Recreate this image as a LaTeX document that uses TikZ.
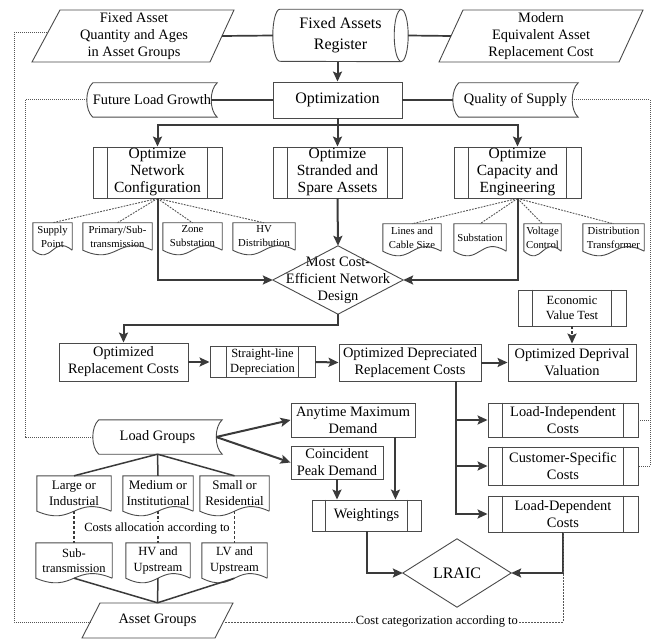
\documentclass[tikz,border=0pt]{standalone}
\usepackage{fontspec}
\setmainfont{Liberation Serif}
\usetikzlibrary{calc,arrows.meta}
\definecolor{lc}{HTML}{3A3A3A}
\definecolor{bc}{HTML}{4A4A4A}
\definecolor{dc}{HTML}{555555}
\newcommand\fsA{\fontsize{14.4pt}{17pt}\selectfont}
\newcommand\fsB{\fontsize{16pt}{21pt}\selectfont}
\newcommand\fsO{\fontsize{15.5pt}{17pt}\selectfont}
\newcommand\fsC{\fontsize{10.7pt}{14pt}\selectfont}
\newcommand\fsD{\fontsize{12.5pt}{15.5pt}\selectfont}
\newcommand\fsE{\fontsize{13pt}{16pt}\selectfont}
\newcommand\fsL{\fontsize{16pt}{19pt}\selectfont}
\tikzset{
 bline/.style={draw=bc,line width=0.9pt},
 bx/.style={rectangle,draw=bc,line width=0.9pt,inner sep=0pt,align=center},
 nb/.style={rectangle,inner sep=0pt,align=center},
 ln/.style={draw=lc,line width=2pt},
 arr/.style={draw=lc,line width=2pt,-{Stealth[length=10pt,width=9pt,inset=2pt]}},
 side/.style={draw=lc,line width=1.1pt},
 bside/.style={draw=lc,line width=1.7pt},
 lgl/.style={draw=lc,line width=1.5pt},
 dotl/.style={draw=dc,line width=1pt,dash pattern=on 0.9pt off 1.1pt},
 fdsh/.style={draw=dc,line width=0.9pt,dash pattern=on 1.8pt off 1.2pt},
 dsh/.style={draw=lc,line width=1.3pt,dash pattern=on 3pt off 2pt},
}
\newcommand\pplines[2]{\draw[bline] ([xshift=#2]#1.north west) -- ([xshift=#2]#1.south west) ([xshift=-#2]#1.north east) -- ([xshift=-#2]#1.south east);}
\newcommand\mydoc[1]{\draw[bline] (#1.south east) -- (#1.north east) -- (#1.north west) -- (#1.south west) .. controls ($(#1.south)+(0,16)$) and ($(#1.south)+(0,-16)$) .. (#1.south east);}
\newcommand\mystd[1]{\draw[bline] ($(#1.north west)+(6,0)$) .. controls ($(#1.north west)+(-2,7)$) and ($(#1.south west)+(-2,-7)$) .. ($(#1.south west)+(6,0)$) -- (#1.south east) .. controls ($(#1.south east)+(-8,-7)$) and ($(#1.north east)+(-8,7)$) .. (#1.north east) -- cycle;}
\newcommand\mydia[1]{\draw[bline] (#1.north) -- (#1.east) -- (#1.south) -- (#1.west) -- cycle;}
\begin{document}
\begin{tikzpicture}[x=1pt,y=-1pt]
\useasboundingbox (0,0) rectangle (656,639);
% ---------- top row
\node[nb,font=\fsA] (fa) at (134,36) {Fixed Asset\\Quantity and Ages\\in Asset Groups};
\draw[bline] (60,10) -- (234,10) -- (210,62) -- (32,62) -- cycle;
\coordinate (faR) at (222,36);
\coordinate (faL) at (47,33);
\node[nb,font=\fsB,minimum width=135pt,minimum height=52pt] (reg) at (340.5,35.5) {Fixed Assets\\Register};
\draw[bline] ($(reg.north east)+(-7,0)$) -- ($(reg.north west)+(7,0)$) arc[start angle=90,end angle=270,x radius=7pt,y radius=26pt] -- ($(reg.south east)+(-7,0)$);
\draw[bline] ($(reg.east)+(-7,0)$) ellipse [x radius=7pt,y radius=26pt];
\node[nb,font=\fsA] (mod) at (541,36) {Modern\\Equivalent Asset\\Replacement Cost};
\draw[bline] (463,10) -- (643,10) -- (619,62) -- (439,62) -- cycle;
\coordinate (modL) at (451,36);
\draw[bside] (faR) -- (reg.west);
\draw[bside] (reg.east) -- (modL);
% ---------- optimization
\node[bx,font=\fsB,minimum width=129pt,minimum height=36pt] (opt) at (337.5,100) {Optimization};
\draw[arr] (opt.north |- reg.south) -- (opt.north);
\node[nb,font=\fsA,minimum width=130pt,minimum height=34pt] (flg) at (152,100) {Future Load Growth};
\mystd{flg}
\node[nb,font=\fsA,minimum width=125pt,minimum height=34pt] (qos) at (515.5,100) {Quality of Supply};
\mystd{qos}
\draw[side] ($(flg.east)+(-6,0)$) -- (opt.west);
\draw[side] (opt.east) -- (qos.west);
% ---------- optimize boxes
\node[bx,font=\fsO,minimum width=129pt,minimum height=51pt] (nc) at (157.5,172.5) {Optimize\\Network\\Configuration};
\pplines{nc}{15pt}
\node[bx,font=\fsO,minimum width=129pt,minimum height=51pt] (ss) at (337.5,172.5) {Optimize\\Stranded and\\Spare Assets};
\pplines{ss}{15pt}
\node[bx,font=\fsO,minimum width=127pt,minimum height=51pt] (ce) at (517.5,172.5) {Optimize\\Capacity and\\Engineering};
\pplines{ce}{15pt}
\coordinate (split) at (337.5,125);
\draw[ln] (opt.south) -- (split);
\draw[arr] (split) -- (ss.north);
\draw[arr] (split) -| (nc.north);
\draw[arr] (split) -| (ce.north);
% ---------- documents
\node[nb,font=\fsC,minimum width=39pt,minimum height=27pt] (sp) at (52.5,236.5) {Supply\\Point};
\node[nb,font=\fsC,minimum width=69pt,minimum height=27pt] (ps) at (117.5,236.5) {Primary/Sub-\\transmission};
\node[nb,font=\fsC,minimum width=59pt,minimum height=27pt] (zs) at (192.5,236.5) {Zone\\Substation};
\node[nb,font=\fsC,minimum width=62pt,minimum height=27pt] (hv) at (264,236.5) {HV\\Distribution};
\node[nb,font=\fsC,minimum width=58pt,minimum height=27pt] (lcs) at (412,237.5) {Lines and\\Cable Size};
\node[nb,font=\fsC,minimum width=52pt,minimum height=27pt] (sbs) at (480,237.5) {Substation};
\node[nb,font=\fsC,minimum width=37pt,minimum height=27pt] (vc) at (542.5,237.5) {Voltage\\Control};
\node[nb,font=\fsC,minimum width=61pt,minimum height=27pt] (dt) at (613.5,237.5) {Distribution\\Transformer};
\foreach \d in {sp,ps,zs,hv,lcs,sbs,vc,dt} {\mydoc{\d}}
\foreach \d in {sp,ps,zs,hv} {\draw[fdsh] (nc.south) -- (\d.north);}
\foreach \d in {lcs,sbs,vc,dt} {\draw[fdsh] (ce.south) -- (\d.north);}
% ---------- most cost-efficient
\node[nb,font=\fsA,minimum width=130pt,minimum height=68pt] (mce) at (338,280) {Most Cost-\\Efficient Network\\Design};
\mydia{mce}
\draw[arr] (ss.south) -- (mce.north);
\draw[arr] (nc.south) |- (mce.west);
\draw[arr] (ce.south) |- (mce.east);
% ---------- valuation row
\node[bx,font=\fsA,minimum width=129pt,minimum height=38pt] (orc) at (123.5,362) {Optimized\\Replacement Costs};
\node[bx,font=\fsD,minimum width=105pt,minimum height=31pt] (sld) at (262.5,362) {Straight-line\\Depreciation};
\pplines{sld}{17pt}
\node[bx,font=\fsA,minimum width=142pt,minimum height=37pt] (odrc) at (410,362.5) {Optimized Depreciated\\Replacement Costs};
\node[bx,font=\fsA,minimum width=128pt,minimum height=37pt] (odv) at (572,362.5) {Optimized Deprival\\Valuation};
\node[bx,font=\fsD,minimum width=108pt,minimum height=36pt] (evt) at (572,308) {Economic\\Value Test};
\pplines{evt}{15pt}
\coordinate (mcd) at (338,325);
\draw[arr] (mce.south) -- (mcd) -| (orc.north);
\draw[arr] (orc.east) -- (sld.west);
\draw[arr] (sld.east) -- (odrc.west);
\draw[arr] (odrc.east) -- (odv.west);
\draw[arr,dash pattern=on 3pt off 2pt] (evt.south) -- (odv.north);
% ---------- cost categories
\node[bx,font=\fsA,minimum width=150pt,minimum height=34pt] (li) at (563,420) {Load-Independent\\Costs};
\pplines{li}{15pt}
\node[bx,font=\fsA,minimum width=150pt,minimum height=38pt] (cs) at (563,466) {Customer-Specific\\Costs};
\pplines{cs}{15pt}
\node[bx,font=\fsA,minimum width=150pt,minimum height=36pt] (ld) at (563,514) {Load-Dependent\\Costs};
\pplines{ld}{15pt}
\coordinate (odb) at (456,381);
\draw[arr] (odb) |- (ld.west);
\draw[arr] (odb |- li.west) -- (li.west);
\draw[arr] (odb |- cs.west) -- (cs.west);
% ---------- load side
\node[nb,font=\fsA,minimum width=129pt,minimum height=34pt] (lg) at (157.5,437) {Load Groups};
\mystd{lg}
\node[bx,font=\fsA,minimum width=124pt,minimum height=34pt] (amd) at (353,420) {Anytime Maximum\\Demand};
\node[bx,font=\fsA,minimum width=92pt,minimum height=33pt] (cpd) at (337,462.5) {Coincident\\Peak Demand};
\coordinate (lgR) at ($(lg.east)+(-6,0)$);
\draw[arr] (lgR) -- (amd.west);
\draw[arr] (lgR) -- (cpd.west);
\node[bx,font=\fsA,minimum width=109pt,minimum height=31pt] (wt) at (366.5,515.5) {Weightings};
\pplines{wt}{14pt}
\coordinate (amdb) at ($(amd.south east)+(-20,0)$);
\draw[arr] (cpd.south) -- (cpd.south |- wt.north);
\draw[arr] (amdb) -- (amdb |- wt.north);
\node[nb,font=\fsL,minimum width=108pt,minimum height=68pt] (lraic) at (457,573) {LRAIC};
\mydia{lraic}
\draw[arr] (wt.south) |- (lraic.west);
\draw[arr] (ld.south) |- (lraic.east);
% ---------- load group documents
\node[nb,font=\fsE,minimum width=74pt,minimum height=35pt] (lgi) at (74,493.5) {Large or\\Industrial};
\node[nb,font=\fsE,minimum width=70pt,minimum height=35pt] (lgm) at (158,493.5) {Medium or\\Institutional};
\node[nb,font=\fsE,minimum width=69pt,minimum height=35pt] (lgs) at (234.5,493.5) {Small or\\Residential};
\node[nb,font=\fsD,minimum width=76pt,minimum height=35pt] (ast) at (74,560.5) {Sub-\\transmission};
\node[nb,font=\fsD,minimum width=64pt,minimum height=35pt] (ahv) at (158,560.5) {HV and\\Upstream};
\node[nb,font=\fsD,minimum width=65pt,minimum height=35pt] (alv) at (234.5,560.5) {LV and\\Upstream};
\foreach \d in {lgi,lgm,lgs,ast,ahv,alv} {\mydoc{\d}}
\foreach \d in {lgi,lgm,lgs} {\draw[lgl] (lg.south) -- (\d.north);}
\draw[dsh] (lgi.south) -- (ast.north);
\draw[dsh] (lgm.south) -- (ahv.north);
\draw[dsh] (lgs.south) -- (alv.north);
\node[fill=white,font=\fsD,inner sep=1pt] (cal) at (157,529) {Costs allocation according to};
\node[nb,font=\fsA,minimum width=151pt,minimum height=35pt] (ag) at (157.5,620.5) {Asset Groups};
\draw[bline] (100,603) -- (233,603) -- (215,638) -- (82,638) -- cycle;
\coordinate (agL) at (91,622);
\coordinate (agR) at (224,622);
\foreach \d in {ast,ahv,alv} {\draw[lgl] (\d.south) -- (ag.north);}
% ---------- dotted links
\coordinate (cc) at (563,622);
\draw[fdsh] (ld.south) -- (cc) -- node[pos=0.372,fill=white,font=\fsD,inner sep=1pt] (ccl) {Cost categorization according to} (agR);
\draw[dotl] (faL) -- (14,33) -- (14,622) -- (agL);
\draw[dotl] (flg.west) -- (25,100) -- (25,437) -- (lg.west);
\draw[dotl] ($(qos.east)+(-6,0)$) -- (650,100) -- (650,466) -- (cs.east);
\draw[dotl] (li.east) -- (650,420);
\end{tikzpicture}
\end{document}
